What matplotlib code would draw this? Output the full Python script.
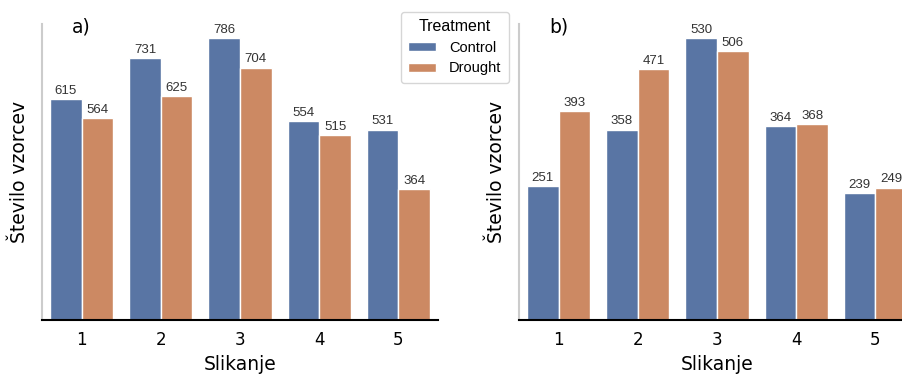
import matplotlib
matplotlib.use("Agg")
import matplotlib.pyplot as plt
import numpy as np
import seaborn as sns
from matplotlib.patches import Patch

categories = ["1", "2", "3", "4", "5"]
control_a = [615, 731, 786, 554, 531]
drought_a = [564, 625, 704, 515, 364]
control_b = [251, 358, 530, 364, 239]
drought_b = [393, 471, 506, 368, 249]
series_names = ["Control", "Drought"]

pal = sns.color_palette("deep")
c_ctrl = sns.desaturate(pal[0], 0.75)
c_drgt = sns.desaturate(pal[1], 0.75)

fig = plt.figure(figsize=(9.03, 3.74), dpi=100)
ax1 = fig.add_axes([42/903, 1-320/374, 396/903, 296/374])
ax2 = fig.add_axes([519/903, 1-320/374, 396/903, 296/374])

def draw(ax, ctrl, drgt, label):
    x = np.arange(len(categories))
    w = 0.4
    b1 = ax.bar(x - w/2, ctrl, w, color=c_ctrl, edgecolor="white", linewidth=1)
    b2 = ax.bar(x + w/2, drgt, w, color=c_drgt, edgecolor="white", linewidth=1)
    for bars in (b1, b2):
        ax.bar_label(bars, padding=1.5, fontsize=9.5, color="#333333", family="Liberation Sans")
    ax.set_xlim(-0.5, len(categories) - 0.5)
    ax.set_ylim(0, max(max(ctrl), max(drgt)) * 1.05)
    ax.set_xticks(x)
    ax.set_xticklabels(categories, fontsize=12)
    ax.set_yticks([])
    ax.tick_params(axis="x", length=0, pad=8)
    for s in ("top", "right"):
        ax.spines[s].set_visible(False)
    ax.spines["left"].set_color("#cccccc")
    ax.spines["left"].set_linewidth(1.5)
    ax.spines["bottom"].set_color("black")
    ax.spines["bottom"].set_linewidth(1.5)
    ax.set_xlabel("Slikanje", fontsize=13.5, labelpad=4)
    ax.set_ylabel("Število vzorcev", fontsize=13.5, labelpad=9)
    ax.text(0.1, 0.99, label, transform=ax.transAxes, fontsize=13.5, ha="center", va="center")

draw(ax1, control_a, drought_a, "a)")
draw(ax2, control_b, drought_b, "b)")

handles = [Patch(facecolor=c_ctrl, edgecolor="white"), Patch(facecolor=c_drgt, edgecolor="white")]
leg = fig.legend(handles, series_names, title="Treatment", loc="upper left",
                 bbox_to_anchor=(401/903, 1-12/374), borderaxespad=0,
                 prop={"family": "Liberation Sans", "size": 10.5},
                 frameon=True, edgecolor="#cccccc", handlelength=1.9, handleheight=0.55,
                 handletextpad=0.9, borderpad=0.5, labelspacing=0.45)
leg.get_title().set_fontfamily("Liberation Sans")
leg.get_title().set_fontsize(11.5)

fig.savefig("out.png", dpi=100)
